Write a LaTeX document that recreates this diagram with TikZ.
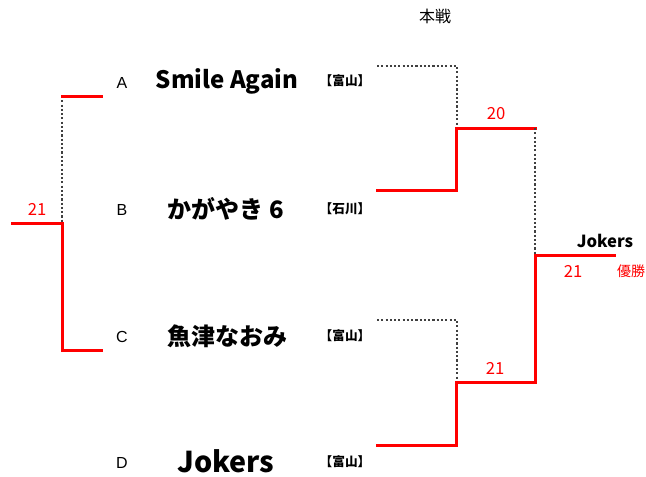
\documentclass[tikz,border=0pt]{standalone}
\usepackage{fontspec}
\setmainfont{Noto Sans CJK JP}
\newfontfamily\latinfont{Liberation Sans}
\begin{document}
\begin{tikzpicture}[x=0.75pt,y=-0.75pt,
  win/.style={draw=red,line width=2.25pt,line cap=rect},
  lose/.style={draw=black!75,line width=0.8pt,dash pattern=on 1.6pt off 1.6pt},
  letter/.style={font=\latinfont\fontsize{12}{14}\selectfont,anchor=center,inner sep=0pt},
  team/.style={font=\bfseries\fontsize{18}{21}\selectfont,anchor=center,inner sep=0pt},
  pref/.style={font=\bfseries\fontsize{9.5}{11}\selectfont,anchor=center,inner sep=0pt},
  score/.style={font=\fontsize{12.5}{14}\selectfont,text=red,anchor=center,inner sep=0pt},
  lbl/.style={font=\fontsize{10.5}{12}\selectfont,anchor=center,inner sep=0pt}]
\useasboundingbox (0,0) rectangle (646,476);

% title
\node[lbl,font=\fontsize{12}{14}\selectfont] (title) at (435,16) {本戦};

% letters
\node[letter] (la) at (122,83) {A};
\node[letter] (lb) at (122,210) {B};
\node[letter] (lc) at (122,337) {C};
\node[letter] (ld) at (122,463) {D};

% team names
\node[team] (ta) at (227,81) {Smile Again};
\node[team] (tb) at (226,209) {かがやき 6};
\node[team] (tc) at (227,336) {魚津なおみ};
\node[team,font=\bfseries\fontsize{21.5}{24}\selectfont] (td) at (226,461) {Jokers};

% prefectures
\node[pref] (pa) at (345,81) {【富山】};
\node[pref] (pb) at (345,209) {【石川】};
\node[pref] (pc) at (345,336) {【富山】};
\node[pref] (pd) at (345,462) {【富山】};

% left bracket
\coordinate (LA) at (101,96);
\coordinate (LAj) at (62,96);
\coordinate (Lmid) at (62,223);
\coordinate (Lout) at (12,223);
\coordinate (LC) at (101,350);
\coordinate (LCj) at (62,350);
\draw[lose] (LAj) -- (Lmid);
\draw[win] (LAj) -- (LA);
\draw[win] (Lout) -- (Lmid) -- (LCj) -- (LC);
\node[score] (sL) at (37,209) {21};

% right top bracket
\coordinate (TA) at (377,66);
\coordinate (TAj) at (457,66);
\coordinate (TB) at (377,190);
\coordinate (TBj) at (456,190);
\coordinate (Tmid) at (456,128);
\coordinate (Tmidd) at (457,128);
\coordinate (Tout) at (535,128);
\draw[lose] (TA) -- (TAj) -- (Tmidd);
\draw[win] (TB) -- (TBj) -- (Tmid) -- (Tout);
\node[score] (sT) at (496,114) {20};

% right bottom bracket
\coordinate (BC) at (377,320);
\coordinate (BCj) at (457,320);
\coordinate (BD) at (377,445);
\coordinate (BDj) at (456,445);
\coordinate (Bmid) at (456,382);
\coordinate (Bmidd) at (457,382);
\coordinate (Bout) at (535,382);
\draw[lose] (BC) -- (BCj) -- (Bmidd);
\draw[win] (BD) -- (BDj) -- (Bmid) -- (Bout);
\node[score] (sB) at (495,368) {21};

% final
\coordinate (Fmid) at (535,255);
\coordinate (Fout) at (614,255);
\draw[lose] (Tout) -- (Fmid);
\draw[win] (Bout) -- (Fmid) -- (Fout);
\node[lbl,font=\bfseries\fontsize{12.5}{14}\selectfont] (champ) at (605,241) {Jokers};
\node[score] (sF) at (573,271) {21};
\node[score,font=\fontsize{10.5}{12}\selectfont] (yusho) at (631,271) {優勝};
\end{tikzpicture}
\end{document}
